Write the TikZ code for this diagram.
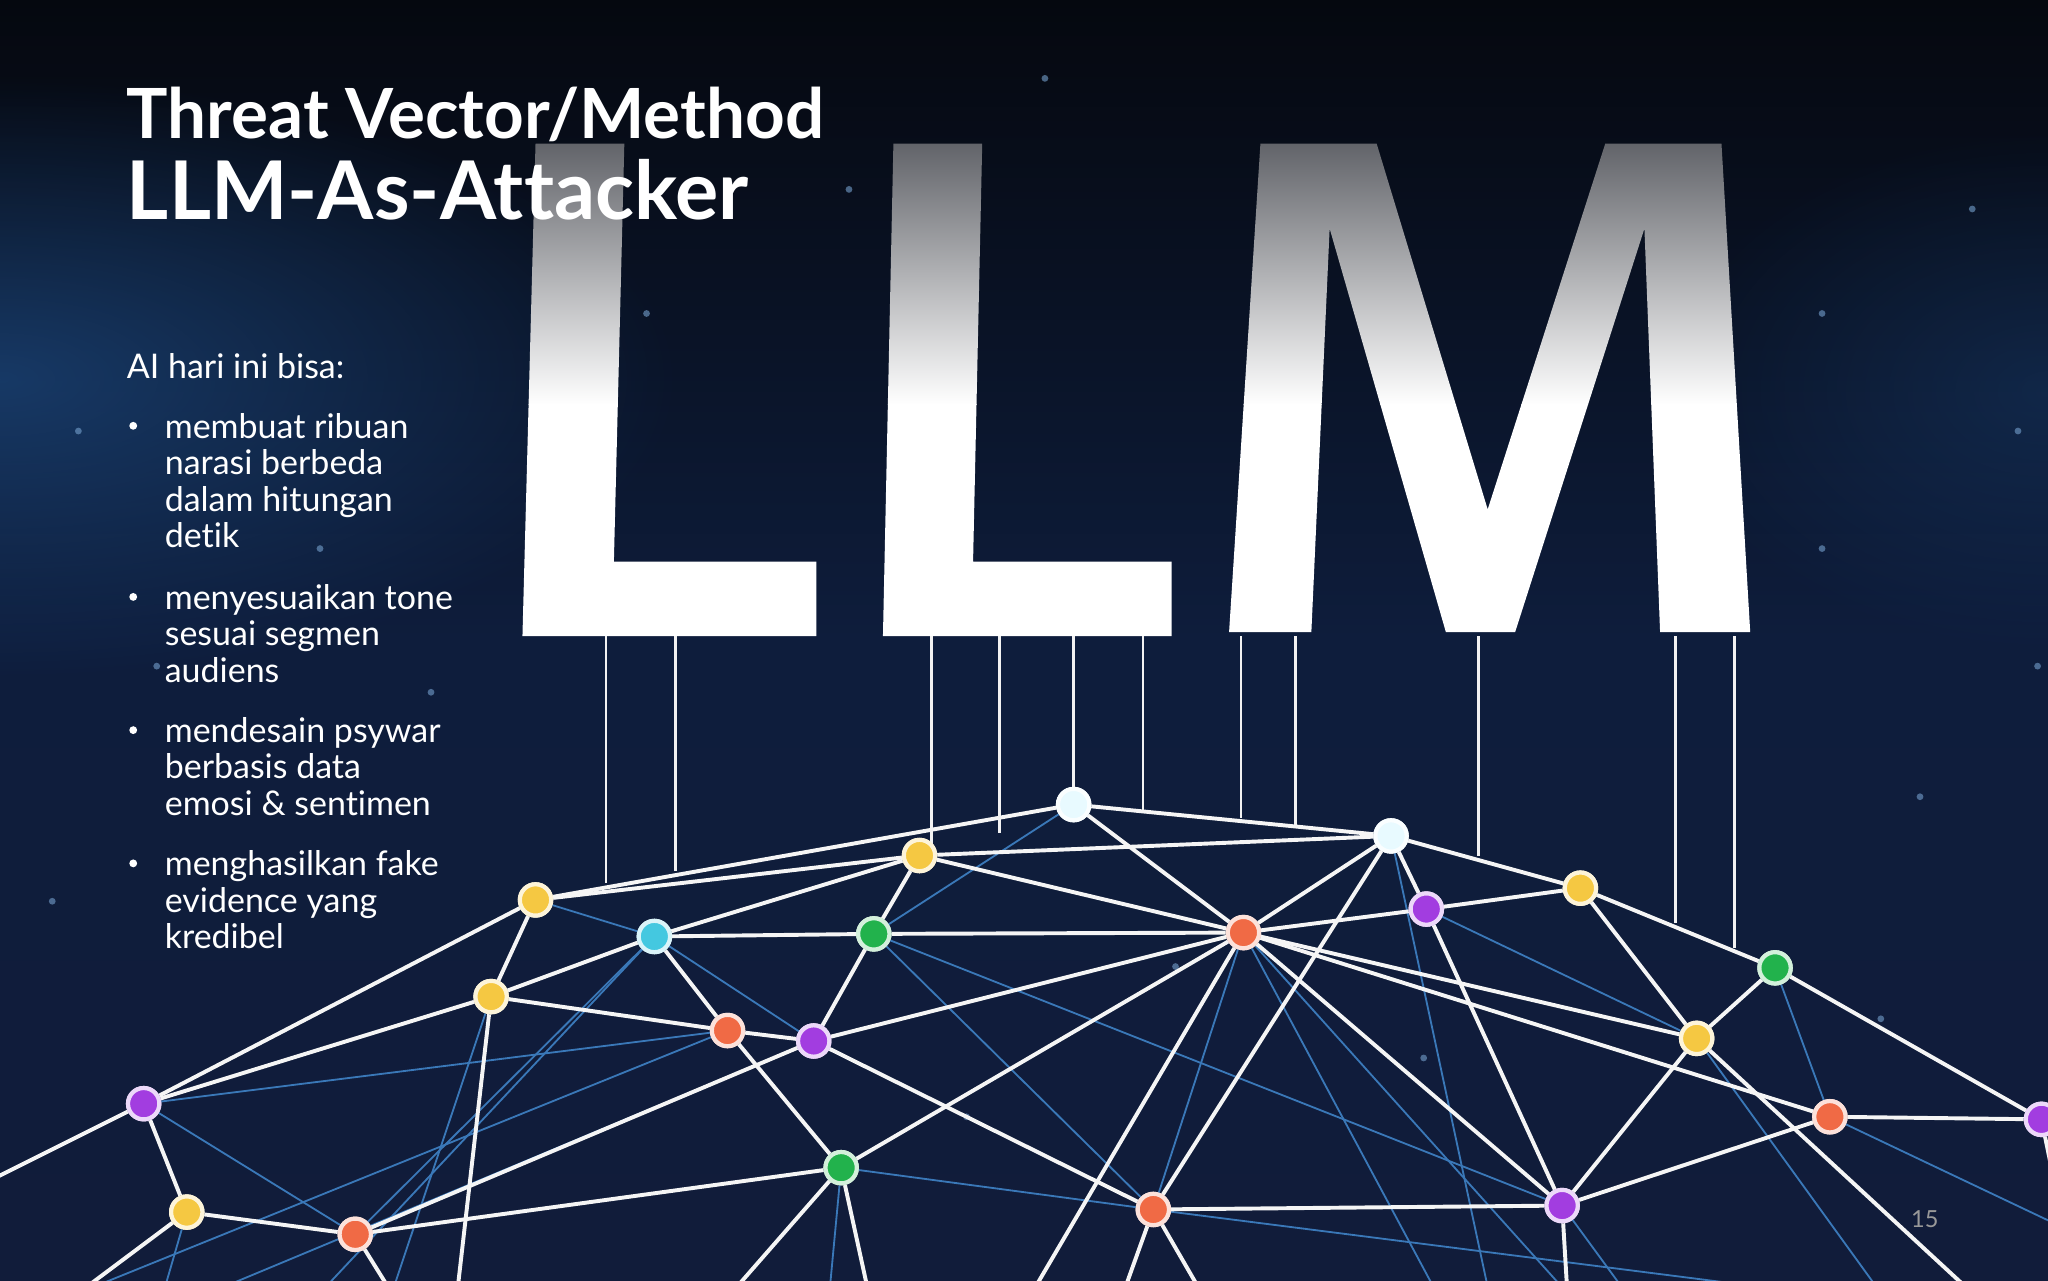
\documentclass[tikz,border=0pt]{standalone}
\usepackage{fontspec}
\setmainfont{Lato}[Ligatures={NoCommon,NoContextual}]
\usetikzlibrary{fadings}
\definecolor{bgtop}{HTML}{05080F}
\definecolor{bgmid}{HTML}{0E1D3C}
\definecolor{bgbot}{HTML}{111C3A}
\definecolor{glowc}{HTML}{1E4D86}
\definecolor{cyel}{HTML}{F5C842}
\definecolor{cgrn}{HTML}{22B24C}
\definecolor{corg}{HTML}{F06A45}
\definecolor{cpur}{HTML}{A23DE0}
\definecolor{ccya}{HTML}{44C8E0}
\definecolor{cwht}{HTML}{E8FAFF}
\definecolor{bluel}{HTML}{3A78B8}
\definecolor{ltop}{HTML}{5E6066}
\tikzfading[name=glowfade, inner color=transparent!35, outer color=transparent!100]
\tikzset{
  nd/.style={circle, fill=#1, draw=white!80!#1, line width=3.2pt, minimum size=24pt, inner sep=0pt},
  wl/.style={white!92!gray, line width=3pt},
  bl/.style={bluel, line width=1.4pt},
  vl/.style={white!90!gray, line width=2pt},
  txt/.style={text=white, anchor=base west, inner sep=0pt},
  bodyf/.style={font=\fontsize{26}{28}\selectfont},
}
\begin{document}
\begin{tikzpicture}[x=1pt,y=-1pt]
\useasboundingbox (0,0) rectangle (1568,980);
\fill[top color=bgtop, bottom color=bgbot, middle color=bgmid] (0,0) rectangle (1568,980);
\fill[glowc, path fading=glowfade] (0,290) ellipse (520 and 230);
\fill[glowc, path fading=glowfade, opacity=0.5] (1568,300) ellipse (300 and 200);
% faint dots
\foreach \p in {(60,330),(495,240),(650,145),(980,330),(1395,240),(1395,420),(1545,330),(245,420),(120,510),(40,690),(1510,160),(800,60),(330,530),(1470,610),(1440,780),(740,855),(900,740),(1090,810),(1560,510)}
  \fill[bluel!70, opacity=0.6] \p circle (2.6);
% LLM letters
\begin{scope}
\clip
  (400,487) -- (410,110) -- (478,110) -- (470,430) -- (625,430) -- (625,487) -- cycle
  (676,487) -- (684,110) -- (752,110) -- (745,430) -- (897,430) -- (897,487) -- cycle
  (941,484) -- (965,110) -- (1054,110) -- (1139,390) -- (1229,110) -- (1318,110) -- (1340,484)
  -- (1271,484) -- (1259,175) -- (1160,484) -- (1107,484) -- (1018,175) -- (1004,484) -- cycle;
\shade[top color=ltop, bottom color=white] (380,105) rectangle (1360,310);
\fill[white] (380,309) rectangle (1360,490);
\end{scope}
% nodes
\node[nd=cwht] (A) at (822,616) {};
\node[nd=cyel] (B) at (704,655) {};
\node[nd=cwht] (C) at (1065,640) {};
\node[nd=cyel] (D) at (410,689) {};
\node[nd=ccya] (E) at (501,717) {};
\node[nd=cgrn] (F) at (669,715) {};
\node[nd=corg] (G) at (952,714) {};
\node[nd=cpur] (H) at (1092,696) {};
\node[nd=cyel] (I) at (1210,680) {};
\node[nd=cgrn] (J) at (1359,741) {};
\node[nd=cyel] (K) at (376,763) {};
\node[nd=corg] (L) at (557,789) {};
\node[nd=cpur] (M) at (623,797) {};
\node[nd=cyel] (N) at (1299,795) {};
\node[nd=cpur] (O) at (110,845) {};
\node[nd=corg] (P) at (1401,855) {};
\node[nd=cpur] (Q) at (1563,857) {};
\node[nd=cgrn] (R) at (644,894) {};
\node[nd=cyel] (S) at (143,928) {};
\node[nd=corg] (T) at (272,945) {};
\node[nd=corg] (U) at (883,926) {};
\node[nd=cpur] (V) at (1196,923) {};
% off-canvas ends
\coordinate (z1) at (-10,905);
\coordinate (z2) at (60,990);
\coordinate (z3) at (125,990);
\coordinate (z4) at (160,990);
\coordinate (z5) at (245,990);
\coordinate (z6) at (300,990);
\coordinate (z7) at (350,990);
\coordinate (z8) at (560,990);
\coordinate (z9) at (635,990);
\coordinate (z10) at (665,990);
\coordinate (z11) at (790,990);
\coordinate (z12) at (860,990);
\coordinate (z13) at (920,990);
\coordinate (z14) at (1100,990);
\coordinate (z15) at (1140,990);
\coordinate (z16) at (1200,990);
\coordinate (z17) at (1245,990);
\coordinate (z18) at (1385,990);
\coordinate (z19) at (1440,990);
\coordinate (z20) at (1510,990);
\coordinate (z21) at (1580,940);
% blue edges
\foreach \a/\b in {A/F,D/E,E/M,E/T,E/z5,L/z2,L/O,M/z4,F/U,F/V,G/U,G/z14,H/N,J/P,R/U,R/z9,U/z18,O/T,N/z19,P/z21,C/z15,V/z17,S/z3,K/z6,G/z16}
  \draw[bl] (\a) -- (\b);
% white edges
\foreach \a/\b in {A/D,A/C,A/G,B/D,B/E,B/F,B/G,B/C,D/K,D/O,E/K,E/F,E/L,K/L,K/O,K/z7,L/M,L/R,M/F,M/G,M/U,M/T,R/G,R/T,R/z8,R/z10,F/G,G/C,G/H,G/N,G/V,G/P,G/z11,C/H,C/I,C/U,H/I,H/V,I/N,I/J,J/N,J/Q,N/V,N/z20,P/Q,P/V,U/V,U/z12,U/z13,O/S,O/z1,S/T,S/z2,T/z6,V/z16,Q/z21}
  \draw[wl] (\a) -- (\b);
% vertical drop lines
\foreach \x/\y in {464/676,517/667,713/650,765/638,875/620,950/626,992/632,1132/655,1283/707,1328/726}
  \draw[vl] (\x,487) -- (\x,\y);
\draw[vl] (822,487) -- (A);
% nodes on top
\foreach \n/\c in {A/cwht,B/cyel,C/cwht,D/cyel,E/ccya,F/cgrn,G/corg,H/cpur,I/cyel,J/cgrn,K/cyel,L/corg,M/cpur,N/cyel,O/cpur,P/corg,Q/cpur,R/cgrn,S/cyel,T/corg,U/corg,V/cpur}
  \node[nd=\c] at (\n) {};
% texts
\node[txt, font=\bfseries\fontsize{53}{57}\selectfont] (t1) at (97,106) {Threat Vector/Method};
\node[txt, font=\bfseries\fontsize{62}{66}\selectfont] (t2) at (97,168) {LLM-As-At\kern0ptt\kern0pt acker};
\node[txt, bodyf] (t3) at (97,290) {AI hari ini bisa:};
\foreach \y in {335,466,568,670}
  \fill[white] (102,\y-9) circle (3);
\node[txt, bodyf, align=left, anchor=north west] (b1) at (126,316) {membuat ribuan\\narasi berbeda\\dalam hitungan\\detik};
\node[txt, bodyf, align=left, anchor=north west] (b2) at (126,447) {menyesuaikan tone\\sesuai segmen\\audiens};
\node[txt, bodyf, align=left, anchor=north west] (b3) at (126,549) {mendesain psywar\\berbasis data\\emosi \& sentimen};
\node[txt, bodyf, align=left, anchor=north west] (b4) at (126,651) {menghasilkan fake\\evidence yang\\kredibel};
\node[txt, text=gray!80, font=\fontsize{18}{20}\selectfont] (pg) at (1463,940) {15};
\end{tikzpicture}
\end{document}
